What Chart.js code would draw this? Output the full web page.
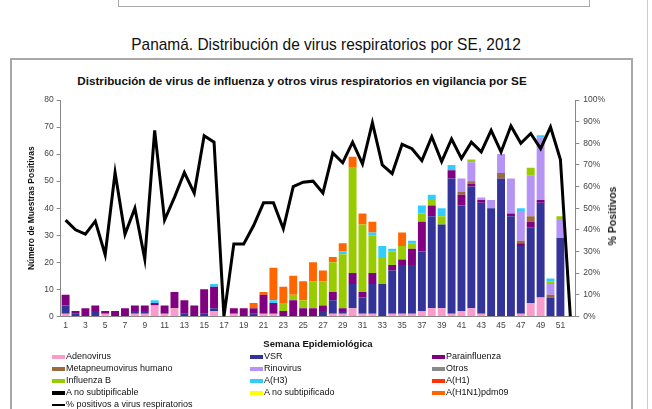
<!DOCTYPE html>
<html>
<head>
<meta charset="utf-8">
<script src="https://cdn.jsdelivr.net/npm/chart.js@4.4.1/dist/chart.umd.min.js"></script>
<style>
  body { margin:0; width:652px; height:409px; background:#fff; overflow:hidden; position:relative;
         font-family:"Liberation Sans", Arial, sans-serif; color:#111; }
  #strip { position:absolute; left:118px; top:-2px; width:470px; height:8px; border:1px solid #aaa; border-top:none; }
  #edge { position:absolute; left:647px; top:0; width:1px; height:409px; background:#ccc; }
  #header { position:absolute; left:0; top:35px; width:652px; text-align:center; font-size:17px;
            transform:scaleX(0.91); }
  #frame { position:absolute; left:10px; top:58px; width:619px; height:360px; border:2px solid #a8a8a8; }
  #wrap { position:absolute; left:12px; top:60px; width:620px; height:292px; }
  #innerTitle { position:absolute; left:0; top:74px; width:604px; text-align:center; font-size:11.7px; font-weight:bold; }
  #y2title { position:absolute; left:612px; top:216px; transform:translate(-50%,-50%) rotate(-90deg);
             font-size:10.5px; font-weight:bold; color:#222; white-space:nowrap; }
  .item { position:absolute; height:12px; line-height:12px; font-size:9px; white-space:nowrap; }
  .sw { display:inline-block; width:13px; height:4px; vertical-align:middle; margin-right:1px; }
  .ln { display:inline-block; width:13px; height:2px; vertical-align:middle; margin-right:1px; background:#000; }
</style>
</head>
<body>
<div id="strip"></div>
<div id="edge"></div>
<div id="header">Panamá. Distribución de virus respiratorios por SE, 2012</div>
<div id="frame"></div>
<div id="innerTitle">Distribución de virus de influenza y otros virus respiratorios en vigilancia por SE</div>
<div id="wrap"><canvas id="chart"></canvas></div>
<div id="y2title">% Positivos</div>
<div id="legend"></div>
<script>
// semanas epidemiologicas 1..52
var weeks = [];
for (var w = 1; w <= 52; w++) weeks.push(String(w));

var adenovirus   = [1,0,0,0,1,0,0,1,1,4, 1,3,0,0,0,2,0,1,0,0, 1,1,0,0,0,0,0,1,1,3, 1,1,0,1,1,1,2,3,3,1, 2,3,1,0,0,0,1,5,7,0, 0,0];
var vsr          = [3,1,0,2,0,0,0,1,1,0, 0,0,1,0,1,1,0,0,0,1, 0,0,0,0,0,0,2,5,1,9, 6,11,12,16,18,18,22,34,31,50, 39,45,41,40,51,37,25,28,35,7, 29,0];
var parainf      = [4,1,3,2,1,2,3,2,2,1, 3,6,5,4,9,8,0,2,3,2, 7,4,2,6,3,3,2,3,1,4, 2,4,0,2,2,6,11,4,0,3, 4,1,1,0,0,1,1,2,1,0, 0,0];
var metapneumo   = [0,0,0,0,0,0,0,0,0,0, 0,0,0,0,0,0,0,0,0,0, 0,0,0,0,0,0,0,0,0,0, 0,0,0,0,0,0,0,0,0,0, 1,1,0,0,2,0,1,2,0,1, 0,0];
var rinovirus    = [0,0,0,0,0,0,0,0,0,0, 0,0,0,0,0,0,0,0,0,0, 0,0,0,0,0,0,0,0,0,0, 0,0,0,0,0,0,0,0,0,0, 5,7,1,3,7,13,11,15,23,4, 7,0];
var otros        = [0,0,0,0,0,0,0,0,0,0, 0,0,0,0,0,0,0,0,0,0, 0,0,0,0,0,0,0,0,0,0, 0,0,0,0,0,0,0,0,0,0, 0,0,0,0,0,0,0,0,0,0, 0,0];
var influenzaB   = [0,0,0,0,0,0,0,0,0,0, 0,0,0,0,0,0,0,0,0,0, 0,0,3,2,3,10,9,11,20,39, 25,14,10,5,5,2,3,2,3,0, 0,1,0,0,0,0,0,3,0,1, 1,0];
var aH3          = [0,0,0,0,0,0,0,0,0,1, 0,0,0,0,0,1,0,0,0,0, 0,1,0,0,0,0,0,0,1,0, 0,1,4,1,0,1,3,2,3,2, 0,0,0,0,0,0,1,0,1,1, 0,0];
var aH1          = [0,0,0,0,0,0,0,0,0,0, 0,0,0,0,0,0,0,0,0,0, 0,0,0,0,0,0,0,0,0,0, 0,0,0,0,0,0,0,0,0,0, 0,0,0,0,0,0,0,0,0,0, 0,0];
var aNoSubtipificable = [0,0,0,0,0,0,0,0,0,0, 0,0,0,0,0,0,0,0,0,0, 0,0,0,0,0,0,0,0,0,0, 0,0,0,0,0,0,0,0,0,0, 0,0,0,0,0,0,0,0,0,0, 0,0];
var aNoSubtipificado  = [0,0,0,0,0,0,0,0,0,0, 0,0,0,0,0,0,0,0,0,0, 0,0,0,0,0,0,0,0,0,0, 0,0,0,0,0,0,0,0,0,0, 0,0,0,0,0,0,0,0,0,0, 0,0];
var pdm09        = [0,0,0,0,0,0,0,0,0,0, 0,0,0,0,0,0,0,0,0,2, 1,12,6,7,7,7,4,2,3,4, 4,4,0,0,5,0,0,0,0,0, 0,0,0,0,0,0,0,0,0,0, 0,0];

// % positivos a virus respiratorios (eje derecho)
var pctPositivos = [44.5,40,38,44,28.5,66.5,38,50,26.5,86, 44.5,55,66.5,57,83.5,80.5,0,33.5,33.5,42,
                    52.5,52.5,40.5,60,62,62.5,57,75.5,71,80.5, 70.5,89.5,70,66,79.5,77.5,72,83,71.5,82,
                    73,80.5,76,86,76,88,80,84.5,77.5,87.5, 72.5,0];

var seriesNames  = ['Adenovirus','VSR','Parainfluenza','Metapneumovirus humano','Rinovirus','Otros',
                    'Influenza  B','A(H3)','A(H1)','A no subtipificable','A no subtipificado','A(H1N1)pdm09'];
var seriesData   = [adenovirus, vsr, parainf, metapneumo, rinovirus, otros,
                    influenzaB, aH3, aH1, aNoSubtipificable, aNoSubtipificado, pdm09];
var seriesColors = ['#f99bcb','#333399','#800080','#9c6a3c','#b594f5','#8a8a8a',
                    '#99cc00','#33ccff','#ff3300','#000000','#ffff00','#ff6600'];
var lineName = '% positivos a virus respiratorios';

(function () {
  var datasets = seriesData.map(function (d, i) {
    return {
      type: 'bar', label: seriesNames[i], data: d, backgroundColor: seriesColors[i],
      stack: 'v', yAxisID: 'y', order: 1, barPercentage: 0.8, categoryPercentage: 1
    };
  });
  datasets.push({
    type: 'line', label: lineName, data: pctPositivos, yAxisID: 'y1', order: 0,
    borderColor: '#000', borderWidth: 3, pointRadius: 0, tension: 0, fill: false
  });

  var tickFont = { family: '"Liberation Sans", Arial, sans-serif', size: 8.5 };

  new Chart(document.getElementById('chart').getContext('2d'), {
    data: { labels: weeks, datasets: datasets },
    options: {
      responsive: true,
      maintainAspectRatio: false,
      animation: false,
      layout: { padding: { top: 40, left: 11, right: 23, bottom: 1 } },
      plugins: { legend: { display: false }, title: { display: false }, tooltip: { enabled: false } },
      scales: {
        x: {
          stacked: true,
          grid: { display: false, drawTicks: false },
          border: { display: true, color: '#888' },
          ticks: { autoSkip: false, maxRotation: 0, color: '#444', font: tickFont, padding: 4,
                   callback: function (v, i) { return i % 2 === 0 ? weeks[i] : ''; } },
          title: { display: true, text: 'Semana Epidemiológica', color: '#111',
                   font: { family: '"Liberation Sans", Arial, sans-serif', size: 9.5, weight: 'bold' }, padding: { top: 4, bottom: 1 } }
        },
        y: {
          stacked: true, min: 0, max: 80,
          grid: { display: true, drawOnChartArea: false, drawTicks: true, tickLength: 4, color: '#888' },
          border: { display: true, color: '#888' },
          ticks: { stepSize: 10, color: '#444', font: tickFont, padding: 3 },
          title: { display: true, text: 'Número de Muestras Positivas', color: '#111',
                   font: { family: '"Liberation Sans", Arial, sans-serif', size: 8.5, weight: 'bold' }, padding: 4 }
        },
        y1: {
          position: 'right', min: 0, max: 100,
          grid: { display: true, drawOnChartArea: false, drawTicks: true, tickLength: 4, color: '#888' },
          border: { display: true, color: '#888' },
          ticks: { stepSize: 10, color: '#444', font: tickFont, padding: 4,
                   callback: function (v) { return v + '%'; } }
        }
      }
    }
  });

  // leyenda en tres columnas
  var legend = document.getElementById('legend');
  var colX = [52, 250, 432];
  var names = seriesNames.concat([lineName]);
  names.forEach(function (n, i) {
    var el = document.createElement('div');
    el.className = 'item';
    el.style.left = colX[i % 3] + 'px';
    el.style.top = (350 + Math.floor(i / 3) * 12) + 'px';
    var sw = document.createElement('span');
    if (i < seriesNames.length) { sw.className = 'sw'; sw.style.background = seriesColors[i]; }
    else { sw.className = 'ln'; }
    el.appendChild(sw);
    el.appendChild(document.createTextNode(n));
    legend.appendChild(el);
  });
})();
</script>
</body>
</html>
